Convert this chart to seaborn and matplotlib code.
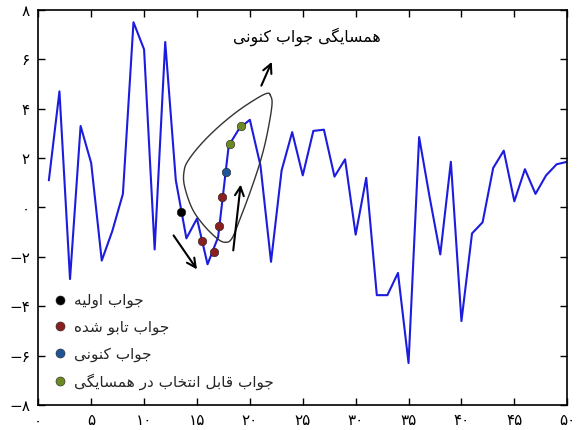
import numpy as np
import pandas as pd
import matplotlib
matplotlib.use("Agg")
import matplotlib.pyplot as plt
from matplotlib.lines import Line2D
import seaborn as sns

# ---- data -------------------------------------------------------------
steps = list(range(1, 51))
objective = [1.1, 4.7, -2.9, 3.3, 1.8, -2.15, -0.95, 0.55, 7.5, 6.4,
             -1.7, 6.7, 1.1, -1.25, -0.45, -2.3, -1.2, 2.5, 3.2, 3.55,
             1.7, -2.2, 1.5, 3.05, 1.3, 3.1, 3.15, 1.25, 1.95, -1.1,
             1.2, -3.55, -3.55, -2.65, -6.3, 2.85, 0.4, -1.9, 1.85, -4.6,
             -1.05, -0.6, 1.6, 2.3, 0.25, 1.55, 0.55, 1.3, 1.75, 1.85]

initial_x, initial_y = [13.49], [-0.17]
tabu_x = [15.47, 16.57, 17.11, 17.36]
tabu_y = [-1.34, -1.79, -0.74, 0.44]
current_x, current_y = [17.77], [1.45]
candidate_x = [18.08, 19.19]
candidate_y = [2.57, 3.29]

# outline of the neighbourhood around the current solution
hood_x = [21.93, 22.09, 21.62, 20.98, 20.04, 19.09, 18.31, 17.67, 16.89,
          15.62, 14.53, 13.8, 13.8, 14.2, 15.31, 16.89, 18.78, 20.67, 21.62]
hood_y = [4.55, 4.15, 2.94, 1.85, 0.64, -0.44, -1.25, -1.41, -1.25,
          -0.71, -0.03, 0.91, 1.52, 1.92, 2.53, 3.21, 3.88, 4.42, 4.62]

x_ticks = [0, 5, 10, 15, 20, 25, 30, 35, 40, 45, 50]
x_tick_labels = ["۰", "۵", "۱۰", "۱۵", "۲۰", "۲۵", "۳۰", "۳۵", "۴۰", "۴۵", "۵۰"]
y_ticks = [-8, -6, -4, -2, 0, 2, 4, 6, 8]
y_tick_labels = ["−۸", "−۶", "−۴", "−۲", "۰", "۲", "۴", "۶", "۸"]

label_hood = "همسایگی جواب کنونی"
label_initial = "جواب اولیه"
label_tabu = "جواب تابو شده"
label_current = "جواب کنونی"
label_candidate = "جواب قابل انتخاب در همسایگی"

# ---- Persian shaping (contextual forms + right-to-left order) ---------
FORMS = {  # isolated, final, initial, medial
    "ا": ("\uFE8D", "\uFE8E", None, None),
    "ب": ("\uFE8F", "\uFE90", "\uFE91", "\uFE92"),
    "ت": ("\uFE95", "\uFE96", "\uFE97", "\uFE98"),
    "ج": ("\uFE9D", "\uFE9E", "\uFE9F", "\uFEA0"),
    "خ": ("\uFEA5", "\uFEA6", "\uFEA7", "\uFEA8"),
    "د": ("\uFEA9", "\uFEAA", None, None),
    "ر": ("\uFEAD", "\uFEAE", None, None),
    "س": ("\uFEB1", "\uFEB2", "\uFEB3", "\uFEB4"),
    "ش": ("\uFEB5", "\uFEB6", "\uFEB7", "\uFEB8"),
    "ق": ("\uFED5", "\uFED6", "\uFED7", "\uFED8"),
    "ل": ("\uFEDD", "\uFEDE", "\uFEDF", "\uFEE0"),
    "م": ("\uFEE1", "\uFEE2", "\uFEE3", "\uFEE4"),
    "ن": ("\uFEE5", "\uFEE6", "\uFEE7", "\uFEE8"),
    "ه": ("\uFEE9", "\uFEEA", "\uFEEB", "\uFEEC"),
    "و": ("\uFEED", "\uFEEE", None, None),
    "ی": ("\uFBFC", "\uFBFD", "\uFBFE", "\uFBFF"),
    "ک": ("\uFB8E", "\uFB8F", "\uFB90", "\uFB91"),
    "گ": ("\uFB92", "\uFB93", "\uFB94", "\uFB95"),
}


def shape_fa(text):
    out = []
    n = len(text)
    for i, ch in enumerate(text):
        if ch not in FORMS:
            out.append(ch)
            continue
        prev = text[i - 1] if i > 0 else None
        nxt = text[i + 1] if i + 1 < n else None
        joins_prev = prev in FORMS and FORMS[prev][2] is not None
        joins_next = FORMS[ch][2] is not None and nxt in FORMS
        iso, fin, ini, med = FORMS[ch]
        if joins_prev and joins_next:
            out.append(med)
        elif joins_prev:
            out.append(fin)
        elif joins_next:
            out.append(ini)
        else:
            out.append(iso)
    return "".join(out)[::-1]


def closed_curve(xs, ys, n=24):
    pts = np.column_stack([xs, ys])
    m = len(pts)
    t = np.linspace(0, 1, n, endpoint=False)[:, None]
    segs = []
    for i in range(m):
        p0, p1, p2, p3 = pts[i - 1], pts[i], pts[(i + 1) % m], pts[(i + 2) % m]
        segs.append(0.5 * (2 * p1 + (-p0 + p2) * t
                           + (2 * p0 - 5 * p1 + 4 * p2 - p3) * t ** 2
                           + (-p0 + 3 * p1 - 3 * p2 + p3) * t ** 3))
    curve = np.vstack(segs + [segs[0][:1]])
    return curve[:, 0], curve[:, 1]


# ---- figure -----------------------------------------------------------
sns.set_theme(style="ticks")
plt.rcParams["font.family"] = ["DejaVu Sans"]

fig = plt.figure(figsize=(5.8, 4.3), dpi=100)
ax = fig.add_axes([0.066, 0.058, 0.912, 0.919])

df = pd.DataFrame({"step": steps, "value": objective})
sns.lineplot(data=df, x="step", y="value", ax=ax, color="#1c1cde",
             linewidth=1.5, legend=False)

cx, cy = closed_curve(hood_x, hood_y)
ax.plot(cx, cy, color="#333333", linewidth=1.0, zorder=3)

arrow = dict(arrowstyle="->", color="black", lw=1.5, mutation_scale=16)
ax.annotate("", xy=(15.15, -2.6), xytext=(12.64, -1.04), arrowprops=arrow, zorder=4)
ax.annotate("", xy=(19.16, 1.04), xytext=(18.4, -1.85), arrowprops=arrow, zorder=4)
ax.annotate("", xy=(22.18, 6.0), xytext=(20.98, 4.83), arrowprops=arrow, zorder=4)

groups = [
    (initial_x, initial_y, "#000000", label_initial),
    (tabu_x, tabu_y, "#8a1f1f", label_tabu),
    (current_x, current_y, "#1f5596", label_current),
    (candidate_x, candidate_y, "#6b8a23", label_candidate),
]
handles = []
for gx, gy, col, lab in groups:
    sns.scatterplot(x=gx, y=gy, ax=ax, color=col, s=38, edgecolor="#222222",
                    linewidth=0.4, zorder=5, legend=False)
    handles.append(Line2D([], [], linestyle="none", marker="o", markersize=6.5,
                          markerfacecolor=col, markeredgecolor="#222222",
                          markeredgewidth=0.4, label=shape_fa(lab)))

ax.text(25.4, 6.9, shape_fa(label_hood), ha="center", va="center", fontsize=11.3,
        color="black")

leg = ax.legend(handles=handles, loc="lower left", bbox_to_anchor=(0.003, 0.008),
                frameon=True, framealpha=1.0, edgecolor="none", facecolor="white",
                fontsize=11, handletextpad=0.45, labelspacing=0.75,
                handlelength=1.0, borderpad=0.3)

ax.set_xlim(0, 50)
ax.set_ylim(-8, 8)
ax.set_xticks(x_ticks)
ax.set_xticklabels(x_tick_labels)
ax.set_yticks(y_ticks)
ax.set_yticklabels(y_tick_labels)
ax.set_xlabel("")
ax.set_ylabel("")
ax.tick_params(direction="in", length=5, width=1.0, top=True, right=True,
               labelsize=11, colors="black", pad=6)
for sp in ax.spines.values():
    sp.set_visible(True)
    sp.set_color("black")
    sp.set_linewidth(1.2)

fig.savefig("out.png", dpi=100)
